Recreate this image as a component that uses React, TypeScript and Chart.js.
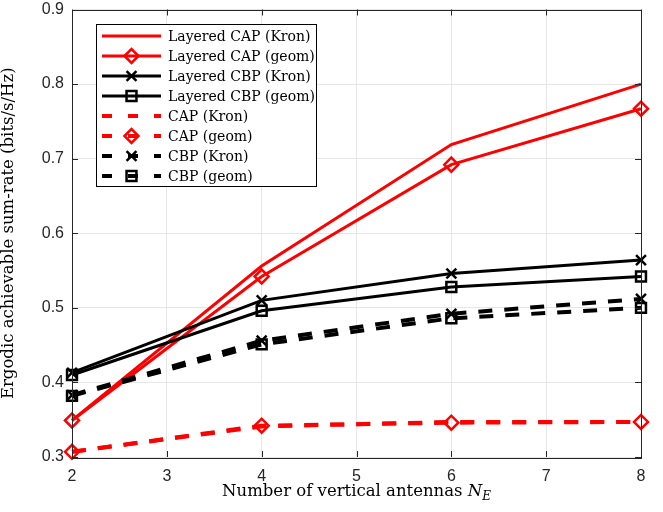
import React, { useEffect, useRef } from "react";
import { Chart, registerables } from "chart.js";

Chart.register(...registerables);

// ---- data ----
const NE = [2, 4, 6, 8];
const layeredCapKron = [0.349, 0.556, 0.719, 0.8];
const layeredCapGeom = [0.349, 0.542, 0.692, 0.767];
const layeredCbpKron = [0.413, 0.51, 0.546, 0.564];
const layeredCbpGeom = [0.41, 0.496, 0.528, 0.542];
const capKron = [0.307, 0.341, 0.347, 0.347];
const capGeom = [0.307, 0.342, 0.346, 0.347];
const cbpKron = [0.383, 0.456, 0.492, 0.512];
const cbpGeom = [0.382, 0.451, 0.486, 0.5];
const xTicks = [2, 3, 4, 5, 6, 7, 8];
const yTicks = [0.3, 0.4, 0.5, 0.6, 0.7, 0.8, 0.9];
const seriesLabels = [
  "Layered CAP (Kron)",
  "Layered CAP (geom)",
  "Layered CBP (Kron)",
  "Layered CBP (geom)",
  "CAP (Kron)",
  "CAP (geom)",
  "CBP (Kron)",
  "CBP (geom)",
];
const xTitle = "Number of vertical antennas ";
const yTitle = "Ergodic achievable sum-rate (bits/s/Hz)";

const RED = "#ff0000";
const BLACK = "#000000";
const AXIS = "#262626";
const SERIF = "'DejaVu Serif', serif";
const SANS = "'Liberation Sans', Arial, sans-serif";
const DASH = [14, 12];
const SOLID_W = 3;
const DASHED_W = 4;

type Spec = {
  values: number[];
  color: string;
  dashed: boolean;
  marker: string | false;
};

const specs: Spec[] = [
  { values: layeredCapKron, color: RED, dashed: false, marker: false },
  { values: layeredCapGeom, color: RED, dashed: false, marker: "rectRot" },
  { values: layeredCbpKron, color: BLACK, dashed: false, marker: "crossRot" },
  { values: layeredCbpGeom, color: BLACK, dashed: false, marker: "rect" },
  { values: capKron, color: RED, dashed: true, marker: false },
  { values: capGeom, color: RED, dashed: true, marker: "rectRot" },
  { values: cbpKron, color: BLACK, dashed: true, marker: "crossRot" },
  { values: cbpGeom, color: BLACK, dashed: true, marker: "rect" },
];

const MARKER_R = 7;

function drawMarker(ctx: CanvasRenderingContext2D, style: string, x: number, y: number, color: string) {
  ctx.save();
  ctx.strokeStyle = color;
  ctx.lineWidth = 2.5;
  ctx.setLineDash([]);
  ctx.beginPath();
  const r = MARKER_R;
  if (style === "rectRot") {
    ctx.moveTo(x - r, y);
    ctx.lineTo(x, y - r);
    ctx.lineTo(x + r, y);
    ctx.lineTo(x, y + r);
    ctx.closePath();
  } else if (style === "rect") {
    const s = r * Math.SQRT1_2;
    ctx.rect(x - s, y - s, 2 * s, 2 * s);
  } else if (style === "crossRot") {
    const s = r * Math.SQRT1_2;
    ctx.moveTo(x - s, y - s);
    ctx.lineTo(x + s, y + s);
    ctx.moveTo(x - s, y + s);
    ctx.lineTo(x + s, y - s);
  }
  ctx.stroke();
  ctx.restore();
}

const framePlugin = {
  id: "matlabFrame",
  afterDatasetsDraw(chart: any) {
    const ctx: CanvasRenderingContext2D = chart.ctx;
    const { left, right, top, bottom } = chart.chartArea;
    const xs = chart.scales.x;
    const ys = chart.scales.y;
    ctx.save();
    // box
    ctx.strokeStyle = AXIS;
    ctx.lineWidth = 1;
    ctx.setLineDash([]);
    ctx.strokeRect(Math.round(left) + 0.5, Math.round(top) + 0.5, Math.round(right - left), Math.round(bottom - top));
    // inward ticks
    const tl = 6;
    ctx.beginPath();
    xTicks.forEach((v) => {
      const px = Math.round(xs.getPixelForValue(v)) + 0.5;
      ctx.moveTo(px, bottom);
      ctx.lineTo(px, bottom - tl);
      ctx.moveTo(px, top);
      ctx.lineTo(px, top + tl);
    });
    yTicks.forEach((v) => {
      const py = Math.round(ys.getPixelForValue(v)) + 0.5;
      ctx.moveTo(left, py);
      ctx.lineTo(left + tl, py);
      ctx.moveTo(right, py);
      ctx.lineTo(right - tl, py);
    });
    ctx.stroke();

    // legend
    const lx = 96, ly = 24, lw = 220, lh = 162;
    ctx.fillStyle = "#ffffff";
    ctx.fillRect(lx, ly, lw, lh);
    ctx.strokeStyle = "#000000";
    ctx.lineWidth = 1;
    ctx.strokeRect(lx + 0.5, ly + 0.5, lw, lh);
    ctx.font = `14px ${SERIF}`;
    ctx.textBaseline = "middle";
    ctx.textAlign = "left";
    specs.forEach((s, i) => {
      const y = 36 + i * 20;
      ctx.save();
      ctx.strokeStyle = s.color;
      ctx.lineWidth = s.dashed ? DASHED_W : SOLID_W;
      ctx.lineCap = "butt";
      ctx.beginPath();
      if (s.dashed) {
        ctx.setLineDash([10, 16]);
      }
      ctx.moveTo(102, y);
      ctx.lineTo(161, y);
      ctx.stroke();
      ctx.restore();
      if (s.marker) drawMarker(ctx, s.marker, 131.5, y, s.color);
      ctx.fillStyle = "#000000";
      ctx.fillText(seriesLabels[i], 168, y + 1);
    });
    ctx.restore();
  },
  afterDraw(chart: any) {
    const ctx: CanvasRenderingContext2D = chart.ctx;
    const { left, right, top, bottom } = chart.chartArea;
    ctx.save();
    ctx.fillStyle = "#000000";
    ctx.textBaseline = "alphabetic";
    // x title with italic N_E
    const mainFont = `16.5px ${SERIF}`;
    const itFont = `italic 16.5px ${SERIF}`;
    const subFont = `italic 12px ${SERIF}`;
    ctx.font = mainFont;
    const w1 = ctx.measureText(xTitle).width;
    ctx.font = itFont;
    const w2 = ctx.measureText("N").width;
    ctx.font = subFont;
    const w3 = ctx.measureText("E").width;
    const total = w1 + w2 + w3;
    const x0 = (left + right) / 2 - total / 2;
    const by = 496;
    ctx.textAlign = "left";
    ctx.font = mainFont;
    ctx.fillText(xTitle, x0, by);
    ctx.font = itFont;
    ctx.fillText("N", x0 + w1, by);
    ctx.font = subFont;
    ctx.fillText("E", x0 + w1 + w2, by + 3.5);
    // y title
    ctx.translate(13, (top + bottom) / 2);
    ctx.rotate(-Math.PI / 2);
    ctx.textAlign = "center";
    ctx.font = mainFont;
    ctx.fillText(yTitle, 0, 0);
    ctx.restore();
  },
};

export default function App() {
  const ref = useRef<HTMLCanvasElement>(null);
  useEffect(() => {
    if (!ref.current) return;
    const datasets = specs.map((s, i) => ({
      label: seriesLabels[i],
      data: NE.map((x, j) => ({ x, y: s.values[j] })),
      borderColor: s.color,
      backgroundColor: "rgba(0,0,0,0)",
      borderWidth: s.dashed ? DASHED_W : SOLID_W,
      borderDash: s.dashed ? DASH : [],
      borderCapStyle: "butt" as const,
      pointStyle: (s.marker || "circle") as any,
      pointRadius: s.marker ? MARKER_R : 0,
      pointHoverRadius: s.marker ? MARKER_R : 0,
      pointBorderWidth: 2.5,
      pointBorderColor: s.color,
      pointBackgroundColor: "rgba(0,0,0,0)",
      tension: 0,
      clip: false as any,
      fill: false,
      order: 8 - i,
    }));
    const chart = new Chart(ref.current, {
      type: "line",
      data: { datasets },
      options: {
        animation: false,
        responsive: false,
        maintainAspectRatio: false,
        events: [],
        layout: { padding: { left: 0, right: 22, top: 6, bottom: 0 } },
        plugins: {
          legend: { display: false },
          tooltip: { enabled: false },
          title: { display: false },
        },
        scales: {
          x: {
            type: "linear",
            min: 2,
            max: 8,
            afterBuildTicks: (s: any) => {
              s.ticks = xTicks.map((v) => ({ value: v }));
            },
            ticks: {
              font: { family: SANS, size: 16 },
              color: AXIS,
              padding: 10,
              maxRotation: 0,
              callback: (v: any) => String(v),
            },
            grid: { color: "#e6e6e6", lineWidth: 1, drawTicks: false },
            border: { display: false },
            afterFit: (s: any) => {
              s.height = 55;
              s.paddingLeft = 0;
              s.paddingRight = 0;
            },
          },
          y: {
            type: "linear",
            min: 0.3,
            max: 0.9,
            afterBuildTicks: (s: any) => {
              s.ticks = yTicks.map((v) => ({ value: v }));
            },
            ticks: {
              font: { family: SANS, size: 16 },
              color: AXIS,
              padding: 8,
              callback: (v: any) => Number(v).toFixed(1),
            },
            grid: { color: "#e6e6e6", lineWidth: 1, drawTicks: false },
            border: { display: false },
            afterFit: (s: any) => {
              s.width = 72;
              s.paddingTop = 0;
              s.paddingBottom = 0;
            },
          },
        },
      },
      plugins: [framePlugin],
    } as any);
    return () => chart.destroy();
  }, []);
  return (
    <div style={{ position: "absolute", left: 0, top: 0, width: 663, height: 512, background: "#fff" }}>
      <canvas ref={ref} width={663} height={512} style={{ display: "block" }} />
    </div>
  );
}
